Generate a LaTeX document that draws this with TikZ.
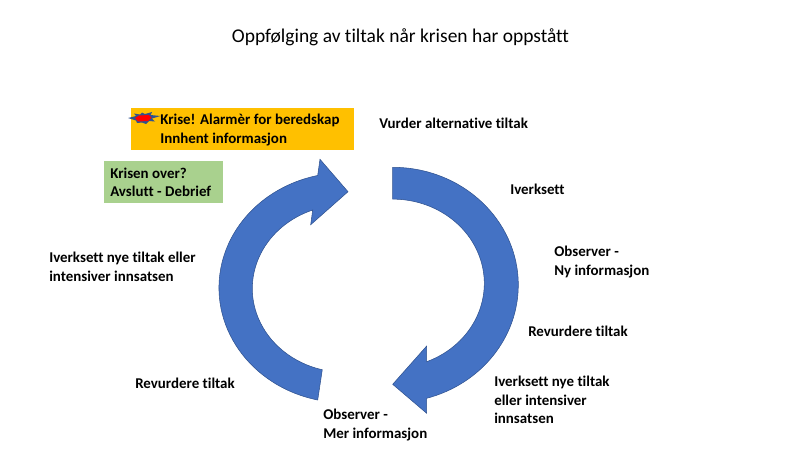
\documentclass[tikz,border=0pt]{standalone}
\usepackage{fontspec}
\setmainfont{Carlito}[Ligatures=NoCommon]
\definecolor{krisefill}{HTML}{FFC000}
\definecolor{overfill}{HTML}{A9D18E}
\definecolor{pilfill}{HTML}{4472C4}
\definecolor{pildraw}{HTML}{2F528F}
\begin{document}
\begin{tikzpicture}[x=0.75pt,y=-0.75pt,
    label node/.style={font=\bfseries\fontsize{11.2}{13.9}\selectfont,align=left,anchor=north west,inner sep=0pt},
    pil/.style={fill=pilfill,draw=pildraw,line width=0.4pt}]
    \useasboundingbox (0,0) rectangle (800,450);

    % bakgrunn for boksene
    \fill[krisefill] (131,108) rectangle (354,150);
    \fill[overfill] (104,161) rectangle (223,203);

    % pilene
    \draw[pil] (392.7,167.3) arc[start angle=-90,end angle=74.3,x radius=125.6,y radius=117.7]
        -- (426.7,413.3) -- (392.7,384.3) -- (426.7,346) -- (426.7,361.7)
        arc[start angle=68.2,end angle=-90,x radius=91.6,y radius=84.3] -- cycle;
    \draw[pil] (317.7,400) arc[start angle=102.5,end angle=257.5,x radius=126,y radius=115]
        -- (320,159.3) -- (348,191.7) -- (310.7,224.7) -- (312.7,210)
        arc[start angle=249.6,end angle=104.2,x radius=92.7,y radius=83.8] -- cycle;

    % tekst
    \node[anchor=north,inner sep=0pt,font=\fontsize{14.6}{17}\selectfont] (tittel) at (400.5,28) {Oppfølging av tiltak når krisen har oppstått};
    \node[label node] (krise) at (160,114) {Krise! Alarmèr for beredskap\\Innhent informasjon};
    \node[label node] (over) at (110,167.5) {Krisen over?\\Avslutt - Debrief};
    \node[label node] (vurder) at (379,118) {Vurder alternative tiltak};
    \node[label node] (iverksett) at (510,184) {Iverksett};
    \node[label node] (observer) at (554,246) {Observer -\\Ny informasjon};
    \node[label node] (revurder) at (528,326) {Revurdere tiltak};
    \node[label node] (nye) at (494,376) {Iverksett nye tiltak\\eller intensiver\\innsatsen};
    \node[label node] (mer) at (323,409) {Observer -\\Mer informasjon};
    \node[label node] (revurder2) at (135,378) {Revurdere tiltak};
    \node[label node] (nye2) at (49,252) {Iverksett nye tiltak eller\\intensiver innsatsen};

    % eksplosjon
    \fill[pildraw] (128,118) -- (136,116) -- (134,113.5) -- (140,114.5) -- (142,112.5) -- (145,114) -- (152,112) -- (150.5,115) -- (160.5,116) -- (152,118.5) -- (155,121.5) -- (149,121) -- (146,124) -- (142,122.5) -- (137,123) -- (136,120.5) -- cycle;
    \fill[red] (135,118) -- (139,115.5) -- (149,115) -- (151.5,117.5) -- (148,121) -- (138,121.5) -- cycle;
\end{tikzpicture}
\end{document}
